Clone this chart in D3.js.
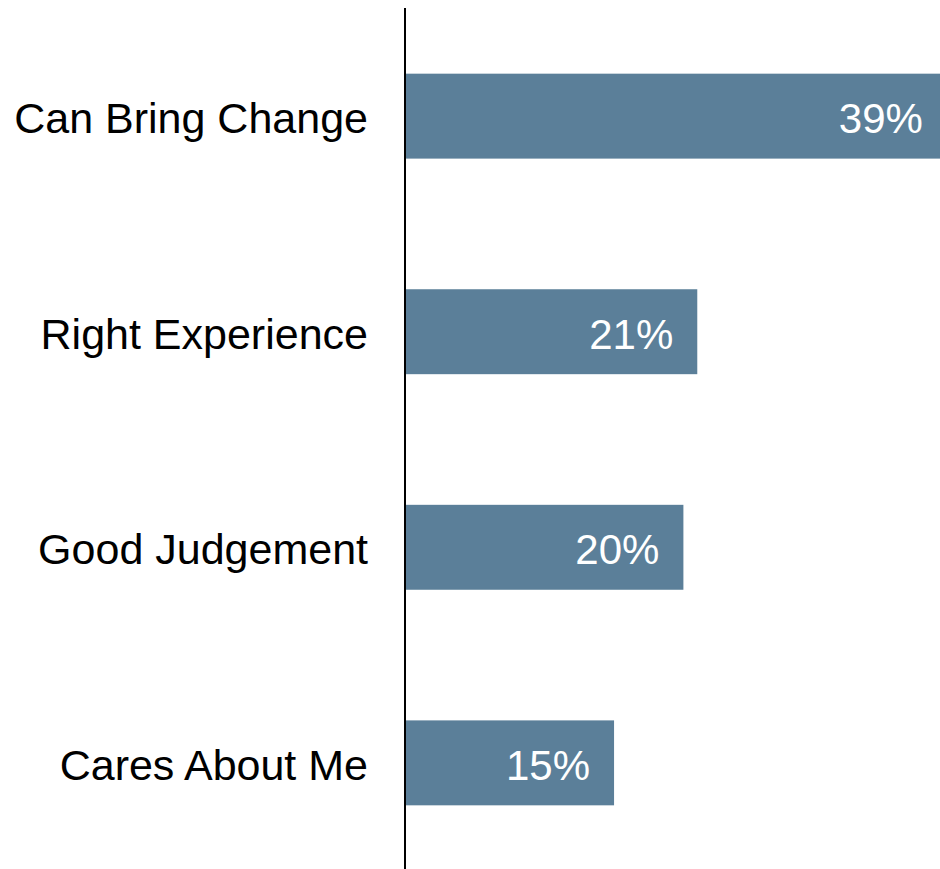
<!DOCTYPE html>
<meta charset="utf-8">
<style>
body { margin: 0; background: #fff; }
.cat { font: 43px "Liberation Sans", Arial, sans-serif; fill: #000; }
.val { font: 42px "Liberation Sans", Arial, sans-serif; fill: #fff; }
</style>
<svg width="940" height="869"></svg>
<script src="https://d3js.org/d3.v7.min.js"></script>
<script>

var categories = ["Can Bring Change", "Right Experience", "Good Judgement", "Cares About Me"];
var values = [39, 21, 20, 15];
var valueLabels = ["39%", "21%", "20%", "15%"];

var svg = d3.select("svg"),
    width = +svg.attr("width"),
    height = +svg.attr("height"),
    axisX = 405;

var data = categories.map(function(c, i) {
    return {cat: c, value: values[i], label: valueLabels[i]};
});

// 13.87px per percentage point, bar for 39% runs off the right edge
var x = d3.scaleLinear()
    .domain([0, 40])
    .range([axisX + 1, axisX + 1 + 40 * 13.87]);

var y = d3.scaleBand()
    .domain(categories)
    .range([9, height + 1])
    .paddingInner(0.606)
    .paddingOuter(0.3);

svg.append("g")
    .selectAll("rect")
    .data(data)
    .enter().append("rect")
    .attr("x", x(0))
    .attr("y", function(d) { return y(d.cat); })
    .attr("width", function(d) { return x(d.value) - x(0); })
    .attr("height", y.bandwidth())
    .attr("fill", "#5b7f99");

svg.append("g")
    .selectAll("text")
    .data(data)
    .enter().append("text")
    .attr("class", "val")
    .attr("x", function(d) { return x(d.value) - 24; })
    .attr("y", function(d) { return y(d.cat) + y.bandwidth() / 2; })
    .attr("dy", "0.4em")
    .attr("text-anchor", "end")
    .text(function(d) { return d.label; });

svg.append("g")
    .selectAll("text")
    .data(data)
    .enter().append("text")
    .attr("class", "cat")
    .attr("x", axisX - 37)
    .attr("y", function(d) { return y(d.cat) + y.bandwidth() / 2; })
    .attr("dy", "0.4em")
    .attr("text-anchor", "end")
    .text(function(d) { return d.cat; });

// vertical axis line
svg.append("line")
    .attr("x1", axisX)
    .attr("x2", axisX)
    .attr("y1", 8)
    .attr("y2", height)
    .attr("stroke", "#000")
    .attr("stroke-width", 2);

</script>
